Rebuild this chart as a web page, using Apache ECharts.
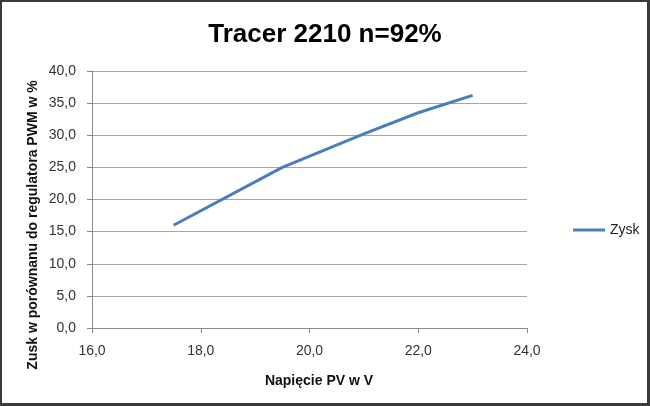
<!DOCTYPE html>
<html>
<head>
<meta charset="utf-8">
<script src="https://cdn.jsdelivr.net/npm/echarts@6/dist/echarts.min.js"></script>
<style>
  html, body { margin: 0; padding: 0; background: #fff; }
  #frame { position: absolute; left: 0; top: 0; width: 650px; height: 406px; box-sizing: border-box; border: 2px solid #3a3a3a; border-right-width: 3px; border-bottom-width: 3px; }
  #chart { position: absolute; left: 0; top: 0; width: 650px; height: 406px; }
</style>
</head>
<body>
<div id="chart"></div>
<div id="frame"></div>
<script>
const chartTitle = 'Tracer 2210 n=92%';
const xAxisTitle = 'Napięcie PV w V';
const yAxisTitle = 'Zusk w porównanu do regulatora PWM w %';
const seriesName = 'Zysk';
const xValues = [17.5, 19.5, 21.0, 22.0, 23.0];
const yValues = [16.0, 25.0, 30.2, 33.5, 36.2];

const fmt = v => v.toFixed(1).replace('.', ',');
const points = xValues.map((x, i) => [x, yValues[i]]);
const lineColor = '#4a7ebb';
const font = '"Liberation Sans", Arial, sans-serif';

const chart = echarts.init(document.getElementById('chart'), null, { renderer: 'canvas' });
chart.setOption({
  backgroundColor: '#ffffff',
  animation: false,
  title: {
    text: chartTitle,
    left: 'center',
    top: 17,
    textStyle: { fontFamily: font, fontSize: 26, fontWeight: 'bold', color: '#000' }
  },
  legend: {
    data: [{ name: seriesName, icon: 'rect' }],
    left: 568,
    top: 218,
    itemWidth: 32,
    itemHeight: 3,
    itemGap: 5,
    textStyle: { fontFamily: font, fontSize: 14, color: '#222' }
  },
  grid: { left: 92, right: 123, top: 71, bottom: 78, containLabel: false, outerBoundsMode: 'none' },
  xAxis: {
    type: 'value',
    min: 16, max: 24, interval: 2,
    axisLine: { show: true, lineStyle: { color: '#8a8a8a', width: 1 } },
    axisTick: { show: true, length: 5, lineStyle: { color: '#8a8a8a' } },
    axisLabel: { formatter: fmt, margin: 16, fontFamily: font, fontSize: 14, color: '#333' },
    splitLine: { show: false }
  },
  yAxis: {
    type: 'value',
    min: 0, max: 40, interval: 5,
    axisLine: { show: true, lineStyle: { color: '#8a8a8a', width: 1 } },
    axisTick: { show: true, length: 5, lineStyle: { color: '#8a8a8a' } },
    axisLabel: { formatter: fmt, margin: 16, fontFamily: font, fontSize: 14, color: '#333' },
    splitLine: { show: true, lineStyle: { color: '#a6a6a6', width: 1 } }
  },
  graphic: [
    {
      type: 'text', x: 319, y: 381,
      style: { text: xAxisTitle, font: 'bold 14px ' + font, fill: '#111', align: 'center', verticalAlign: 'middle' }
    },
    {
      type: 'text', x: 33, y: 225, rotation: Math.PI / 2,
      style: { text: yAxisTitle, font: 'bold 14px ' + font, fill: '#111', align: 'center', verticalAlign: 'middle' }
    }
  ],
  series: [{
    name: seriesName,
    type: 'line',
    data: points,
    showSymbol: false,
    symbol: 'none',
    itemStyle: { color: lineColor },
    lineStyle: { color: lineColor, width: 3 }
  }]
});
</script>
</body>
</html>
